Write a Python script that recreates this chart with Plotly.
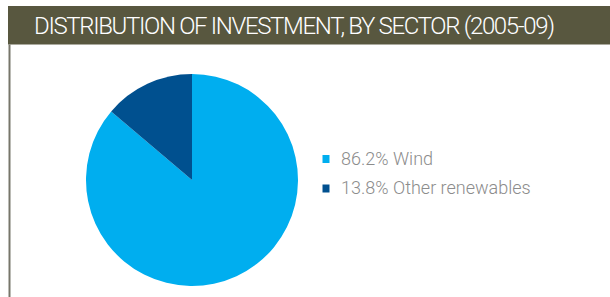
import plotly.graph_objects as go

title = "DISTRIBUTION OF INVESTMENT, BY SECTOR (2005-09)"
labels = ["Wind", "Other renewables"]
values = [86.2, 13.8]
colors = ["#00aeef", "#00508f"]

W, H = 610, 297


def px(x):
    return x / W


def py(y):
    return (H - y) / H


fig = go.Figure()
fig.add_trace(go.Pie(
    labels=labels, values=values, sort=False, direction="clockwise", rotation=0,
    marker=dict(colors=colors, line=dict(width=0)),
    textinfo="none", hoverinfo="label+percent", showlegend=False,
    domain=dict(x=[px(86), px(298)], y=[py(286), py(74)]),
))

shapes = [
    dict(type="rect", xref="paper", yref="paper", x0=px(8), x1=1.0, y0=py(44.5), y1=py(6),
         fillcolor="#58573f", line=dict(width=0), layer="below"),
    dict(type="line", xref="paper", yref="paper", x0=px(9.5), x1=px(9.5), y0=0, y1=py(44.5),
         line=dict(color="#77766a", width=2)),
]

annotations = [
    dict(text=f"<span style='letter-spacing:-1.35px'>{title}</span>", xref="paper", yref="paper",
         x=px(32), y=py(26), xanchor="left", yanchor="middle",
         showarrow=False,
         font=dict(family="Roboto", size=24, weight=300, color="#ffffff")),
]
for i, (lab, val, col) in enumerate(zip(labels, values, colors)):
    yc = 159 + 29.5 * i
    shapes.append(dict(type="rect", xref="paper", yref="paper",
                       x0=px(322.5), x1=px(329.5), y0=py(yc + 4), y1=py(yc - 4),
                       fillcolor=col, line=dict(width=0)))
    annotations.append(dict(
        text=f"{val}% {lab}",
        xref="paper", yref="paper", x=px(338.5), y=py(yc - 1),
        xanchor="left", yanchor="middle", showarrow=False,
        font=dict(family="Roboto", size=18, weight=300, color="#8c8c8c"),
    ))

fig.update_layout(
    width=W, height=H, margin=dict(l=0, r=0, t=0, b=0),
    paper_bgcolor="white", plot_bgcolor="white",
    shapes=shapes, annotations=annotations,
)
fig.write_html(
    "out.html",
    config={"displayModeBar": False},
    post_script="document.body.style.margin='0';document.body.style.overflow='hidden';",
)
